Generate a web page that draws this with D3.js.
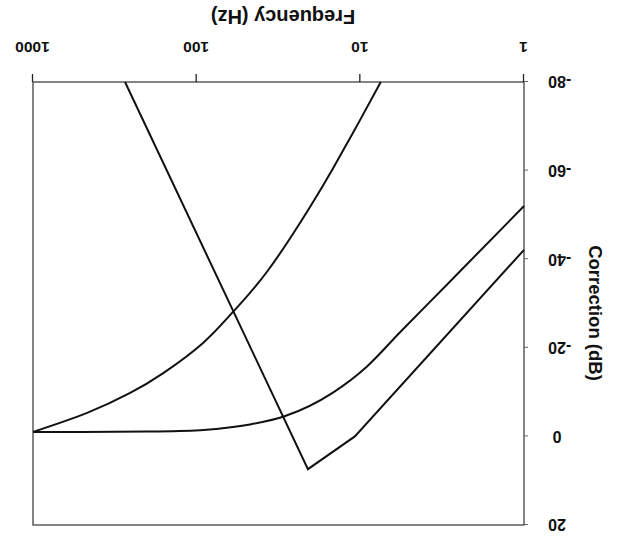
<!DOCTYPE html>
<html>
<head>
<meta charset="utf-8">
<script src="https://cdn.jsdelivr.net/npm/d3@7"></script>
<style>
  html, body { margin: 0; padding: 0; background: #fff; }
  svg { display: block; }
  text { font-family: "Liberation Sans", Arial, sans-serif; font-weight: bold; fill: #111; }
</style>
</head>
<body>
<svg id="chart" width="622" height="541"></svg>
<script>
// ---- data ----
const xTicks = [1, 10, 100, 1000];
const yTicks = [20, 0, -20, -40, -60, -80];
const xLabel = "Frequency (Hz)";
const yLabel = "Correction (dB)";

// curve with steep roll-off below ~100 Hz
const freqA = [7.5, 10.5, 14.7, 20.3, 36.6, 60, 91.4, 160, 255, 467, 1000];
const dbA   = [-80, -70.1, -60.5, -51.8, -37.5, -28.1, -21.1, -14.3, -9.8, -5.3, -1];

// gentle high-pass curve
const freqB = [1, 2.95, 5.72, 9.1, 14.7, 28.8, 47.2, 60, 95.3, 200, 500, 1000];
const dbB   = [-52, -34.3, -23.5, -15.8, -9.9, -4.6, -2.7, -2.1, -1.4, -1.1, -1, -1];

// band-pass (straight-line segments)
const freqC = [1, 10.8, 20.9, 274];
const dbC   = [-42.1, 0, 7.4, -80];

// ---- drawing ----
const svg = d3.select("#chart");
// the reference is the chart turned upside down (rotated 180 degrees)
const g = svg.append("g").attr("transform", "rotate(180 311 270.5)");

const x = d3.scaleLog().domain([1, 1000]).range([98, 589]);
const y = d3.scaleLinear().domain([20, -80]).range([16, 459]);

// frame
g.append("rect")
  .attr("x", x(1)).attr("y", y(20))
  .attr("width", x(1000) - x(1)).attr("height", y(-80) - y(20))
  .attr("fill", "none").attr("stroke", "#333").attr("stroke-width", 1.2);

// x axis
const xAxis = g.append("g")
  .attr("transform", `translate(0,${y(-80)})`)
  .call(d3.axisBottom(x).tickValues(xTicks).tickFormat(d => String(d)).tickSize(8).tickPadding(21));
xAxis.select(".domain").remove();
xAxis.selectAll("line").attr("stroke", "#222").attr("stroke-width", 1.3);
xAxis.selectAll("text").style("font-size", "15.5px").attr("fill", "#111");

// y axis
const yAxis = g.append("g")
  .attr("transform", `translate(${x(1)},0)`)
  .call(d3.axisLeft(y).tickValues(yTicks).tickFormat(d => String(d)).tickSize(4).tickPadding(17));
yAxis.select(".domain").remove();
yAxis.selectAll("line").attr("stroke", "#666").attr("stroke-width", 1);
// labels: digits centred on a common column, minus sign hanging to the left
const labelCenter = 65 - x(1);
yAxis.selectAll(".tick text")
  .style("font-size", "16px").attr("fill", "#111")
  .each(function(d) {
    const t = d3.select(this);
    t.text(String(Math.abs(d)));
    const w = this.getComputedTextLength();
    t.text(String(d))
      .attr("text-anchor", "end")
      .attr("x", labelCenter + w / 2);
  });

// axis titles
g.append("text")
  .attr("x", 339).attr("y", 531)
  .attr("text-anchor", "middle")
  .style("font-size", "20px")
  .text(xLabel);

g.append("text")
  .attr("transform", "translate(33,228) rotate(-90)")
  .attr("text-anchor", "middle")
  .style("font-size", "18.5px")
  .text(yLabel);

// curves
const line = d3.line().x(d => x(d[0])).y(d => y(d[1]));
const zip = (a, b) => a.map((v, i) => [v, b[i]]);

g.append("path")
  .datum(zip(freqA, dbA))
  .attr("d", line.curve(d3.curveNatural))
  .attr("fill", "none").attr("stroke", "#111").attr("stroke-width", 2);

g.append("path")
  .datum(zip(freqB, dbB))
  .attr("d", line.curve(d3.curveMonotoneX))
  .attr("fill", "none").attr("stroke", "#111").attr("stroke-width", 2);

g.append("path")
  .datum(zip(freqC, dbC))
  .attr("d", line.curve(d3.curveLinear))
  .attr("fill", "none").attr("stroke", "#111").attr("stroke-width", 2);
</script>
</body>
</html>
